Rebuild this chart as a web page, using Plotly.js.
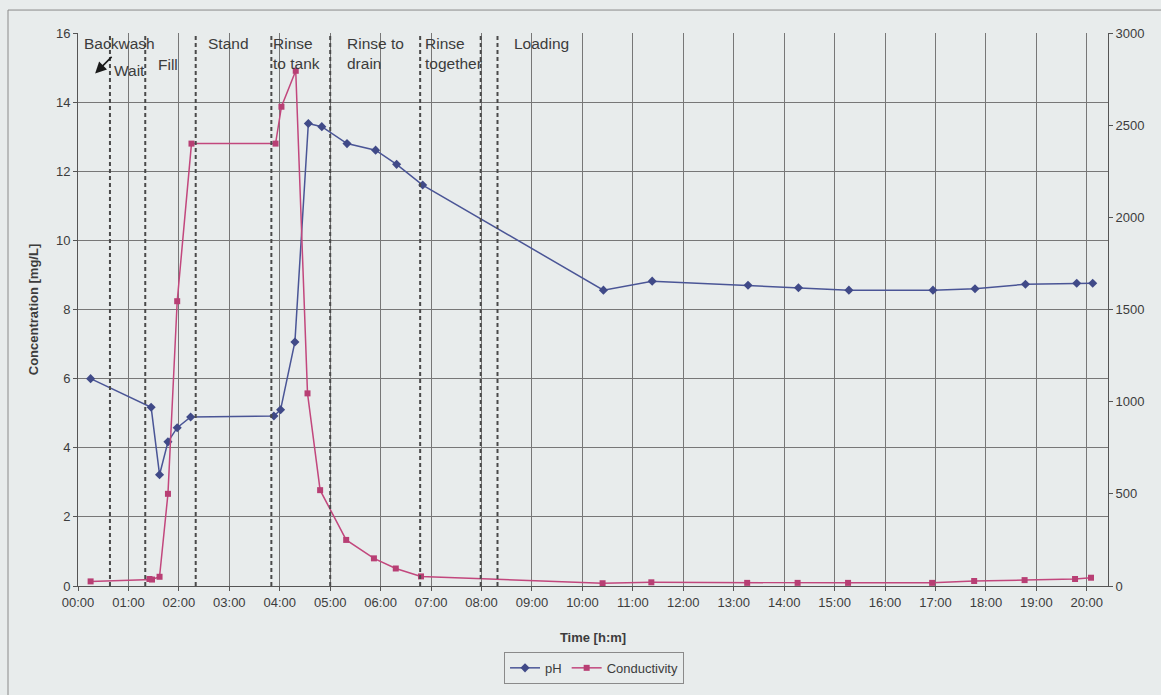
<!DOCTYPE html>
<html>
<head>
<meta charset="utf-8">
<script src="https://cdn.plot.ly/plotly-3.0.1.min.js"></script>
<style>
  html, body { margin: 0; padding: 0; background: #e8ecec; }
  #chart { width: 1161px; height: 695px; }
</style>
</head>
<body>
<div id="chart"></div>
<script>
// ---- data ----
const phTime = ["00:15","01:27","01:37","01:47","01:58","02:14","03:53","04:01","04:18","04:34","04:50","05:20","05:54","06:19","06:50","10:25","11:23","13:17","14:17","15:17","16:57","17:47","18:47","19:48","20:07"];
const phValue = [6.0,5.17,3.22,4.17,4.58,4.89,4.92,5.10,7.06,13.38,13.29,12.80,12.61,12.20,11.60,8.56,8.82,8.70,8.63,8.56,8.56,8.60,8.73,8.76,8.76];

const condTime = ["00:15","01:25","01:28","01:37","01:47","01:58","02:15","03:55","04:02","04:19","04:33","04:48","05:19","05:52","06:18","06:48","10:24","11:22","13:16","14:16","15:16","16:56","17:46","18:46","19:46","20:05"];
const condValue = [25,38,35,50,500,1545,2400,2400,2600,2795,1045,520,250,150,95,52,15,20,17,17,17,17,27,32,38,45];

const phaseBoundaries = ["00:38","01:20","02:20","03:50","05:00","06:47","07:59","08:19"];

const tickLabels = ["00:00","01:00","02:00","03:00","04:00","05:00","06:00","07:00","08:00","09:00","10:00","11:00","12:00","13:00","14:00","15:00","16:00","17:00","18:00","19:00","20:00"];

const seriesNames = ["pH", "Conductivity"];

// ---- helpers ----
function hours(t) { const p = t.split(":"); return (+p[0]) + (+p[1]) / 60; }

const bg = "#e8ecec";
const grid = "#777777";
const txt = "#3c3c3c";
const blue = "#4a5596";
const pink = "#c2477d";

const traces = [
  {
    x: phTime.map(hours), y: phValue, name: seriesNames[0], type: "scatter", mode: "lines+markers",
    line: { color: blue, width: 1.5 },
    marker: { symbol: "diamond", size: 7, color: "#404a88" },
    yaxis: "y"
  },
  {
    x: condTime.map(hours), y: condValue, name: seriesNames[1], type: "scatter", mode: "lines+markers",
    line: { color: pink, width: 1.5 },
    marker: { symbol: "square", size: 6, color: "#b83f74" },
    yaxis: "y2"
  }
];

const shapes = phaseBoundaries.map(t => ({
  type: "line", xref: "x", yref: "paper", x0: hours(t), x1: hours(t), y0: 0, y1: 1,
  line: { color: "#4a4a4a", width: 2, dash: "4px,3px" }, layer: "above"
}));
// outer chart frame
shapes.push({
  type: "rect", xref: "paper", yref: "paper",
  x0: -70 / 1030, x1: 1.2, y0: -0.25, y1: 1 + 23 / 554,
  line: { color: "#8a8a8a", width: 1 }, fillcolor: "rgba(0,0,0,0)", layer: "below"
});

const lab = (text, x, y, ya) => ({
  text: text, xref: "x", yref: "y", x: x, y: y, xanchor: "left", yanchor: ya || "top",
  showarrow: false, align: "left", font: { family: "Liberation Sans, Arial, sans-serif", size: 15.5, color: txt }
});

const annotations = [
  lab("Backwash", 0.07, 16),
  lab("Wait", 0.68, 14.92, "middle"),
  lab("Fill", 1.55, 15.1, "middle"),
  lab("Stand", 2.53, 16),
  lab("Rinse<br>to tank", 3.82, 16),
  lab("Rinse to<br>drain", 5.3, 16),
  lab("Rinse<br>together", 6.83, 16),
  lab("Loading", 8.6, 16),
  {
    xref: "x", yref: "y", x: 0.34, y: 14.83, ax: 18, ay: -18, text: "",
    showarrow: true, arrowhead: 2, arrowsize: 1.4, arrowwidth: 1.6, arrowcolor: "#1a1a1a"
  }
];

const layout = {
  width: 1161, height: 695,
  paper_bgcolor: bg, plot_bgcolor: bg,
  margin: { l: 78, r: 53, t: 33, b: 108 },
  font: { family: "Liberation Sans, Arial, sans-serif", size: 13, color: txt },
  showlegend: true,
  legend: {
    orientation: "h", x: 0.501, y: -0.146, xanchor: "center", yanchor: "middle",
    bgcolor: bg, bordercolor: "#8a8a8a", borderwidth: 1,
    font: { size: 13, color: txt }, itemwidth: 30, tracegroupgap: 0
  },
  xaxis: {
    range: [0, 20.42], tickvals: tickLabels.map(hours), ticktext: tickLabels,
    showgrid: true, gridcolor: grid, gridwidth: 1,
    showline: true, linecolor: "#555", linewidth: 1, mirror: false,
    ticks: "outside", ticklen: 4, tickcolor: "#555",
    tickfont: { size: 13, color: txt }, zeroline: false,
    title: { text: "<b>Time [h:m]</b>", font: { size: 13, color: txt }, standoff: 24 }
  },
  yaxis: {
    range: [0, 16], dtick: 2, showgrid: true, gridcolor: grid, gridwidth: 1,
    showline: true, linecolor: "#555", linewidth: 1,
    ticks: "outside", ticklen: 4, tickcolor: "#555", zeroline: false,
    tickfont: { size: 13, color: txt },
    title: { text: "<b>Concentration [mg/L]</b>", font: { size: 13, color: txt }, standoff: 14 }
  },
  yaxis2: {
    range: [0, 3000], dtick: 500, overlaying: "y", side: "right",
    showgrid: false, showline: true, linecolor: "#555", linewidth: 1,
    ticks: "outside", ticklen: 4, tickcolor: "#555", zeroline: false,
    tickfont: { size: 13, color: txt }
  },
  shapes: shapes,
  annotations: annotations
};

Plotly.newPlot("chart", traces, layout, { displayModeBar: false, staticPlot: true });
</script>
</body>
</html>
